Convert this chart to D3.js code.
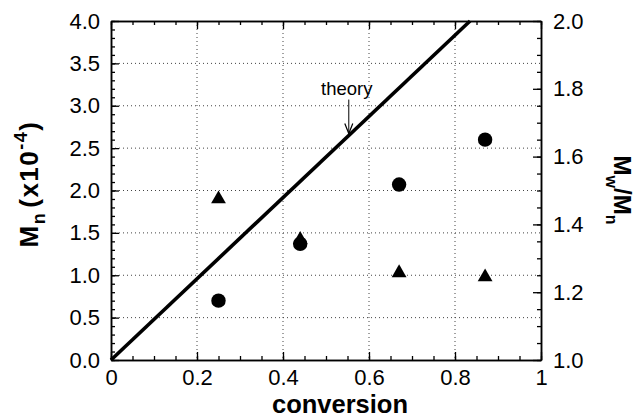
<!DOCTYPE html>
<html>
<head>
<meta charset="utf-8">
<script src="https://cdn.jsdelivr.net/npm/d3@7/dist/d3.min.js"></script>
<style>
  html, body { margin: 0; padding: 0; background: #fff; }
  svg { display: block; }
  text { font-family: "Liberation Sans", Arial, Helvetica, sans-serif; fill: #000; }
</style>
</head>
<body>
<svg id="chart" width="637" height="418"></svg>
<script>
// ---- data ----
const conversion = [0.25, 0.44, 0.67, 0.87];
const mnValues   = [0.70, 1.37, 2.07, 2.60];        // Mn (x10^-4), left axis
const pdiValues  = [1.475, 1.355, 1.257, 1.245];    // Mw/Mn, right axis
const theoryConv = [0, 0.835];
const theoryMn   = [0, 4.0];
const theoryNote = { text: "theory", conv: 0.553, mn: 2.66 };
const xTicks     = [0, 0.2, 0.4, 0.6, 0.8, 1];
const xTickLabels = ["0", "0.2", "0.4", "0.6", "0.8", "1"];
const leftTicks  = [0, 0.5, 1, 1.5, 2, 2.5, 3, 3.5, 4];
const leftTickLabels = ["0.0","0.5","1.0","1.5","2.0","2.5","3.0","3.5","4.0"];
const rightTicks = [1.0, 1.2, 1.4, 1.6, 1.8, 2.0];
const rightTickLabels = ["1.0","1.2","1.4","1.6","1.8","2.0"];

// ---- layout ----
const L = 111, R = 541, T = 21, B = 360;
const svg = d3.select("#chart");
const x = d3.scaleLinear().domain([0, 1]).range([L, R]);
const yL = d3.scaleLinear().domain([0, 4]).range([B, T]);
const yR = d3.scaleLinear().domain([1, 2]).range([B, T]);

// grid
const grid = svg.append("g").attr("stroke", "#444").attr("stroke-width", 1)
  .attr("stroke-dasharray", "1,3").attr("fill", "none");
xTicks.filter(d => d > 0 && d < 1).forEach(d => {
  grid.append("line").attr("x1", x(d)).attr("x2", x(d)).attr("y1", T).attr("y2", B);
});
leftTicks.filter(d => d > 0 && d < 4).forEach(d => {
  grid.append("line").attr("x1", L).attr("x2", R).attr("y1", yL(d)).attr("y2", yL(d));
});

const fontSize = 22;
function styleAxis(g) {
  g.selectAll("path").attr("stroke", "#000").attr("stroke-width", 1.5);
  g.selectAll("line").attr("stroke", "#000").attr("stroke-width", 1.3);
  g.selectAll("text").attr("font-size", fontSize).attr("fill", "#000")
    .attr("font-family", '"Liberation Sans", Arial, sans-serif');
}
const range = (a, b, s) => d3.range(a, b + s / 2, s).map(v => +v.toFixed(4));

// minor ticks
svg.append("g").attr("transform", `translate(0,${B})`)
  .call(d3.axisBottom(x).tickValues(range(0, 1, 0.05)).tickSizeInner(-4).tickSizeOuter(0).tickFormat(""))
  .call(styleAxis);
svg.append("g").attr("transform", `translate(0,${T})`)
  .call(d3.axisTop(x).tickValues(range(0, 1, 0.05)).tickSizeInner(-4).tickSizeOuter(0).tickFormat(""))
  .call(styleAxis);
svg.append("g").attr("transform", `translate(${L},0)`)
  .call(d3.axisLeft(yL).tickValues(range(0, 4, 0.1)).tickSizeInner(-4).tickSizeOuter(0).tickFormat(""))
  .call(styleAxis);
svg.append("g").attr("transform", `translate(${R},0)`)
  .call(d3.axisRight(yR).tickValues(range(1, 2, 0.05)).tickSizeInner(-4).tickSizeOuter(0).tickFormat(""))
  .call(styleAxis);

// major ticks
svg.append("g").attr("transform", `translate(0,${B})`)
  .call(d3.axisBottom(x).tickValues(xTicks).tickSizeInner(-8).tickSizeOuter(0).tickPadding(9)
    .tickFormat((d, i) => xTickLabels[i]))
  .call(styleAxis);
svg.append("g").attr("transform", `translate(0,${T})`)
  .call(d3.axisTop(x).tickValues(xTicks).tickSizeInner(-8).tickSizeOuter(0).tickFormat(""))
  .call(styleAxis);
svg.append("g").attr("transform", `translate(${L},0)`)
  .call(d3.axisLeft(yL).tickValues(leftTicks).tickSizeInner(-8).tickSizeOuter(0).tickPadding(11)
    .tickFormat((d, i) => leftTickLabels[i]))
  .call(styleAxis);
svg.append("g").attr("transform", `translate(${R},0)`)
  .call(d3.axisRight(yR).tickValues(rightTicks).tickSizeInner(-8).tickSizeOuter(0).tickPadding(12)
    .tickFormat((d, i) => rightTickLabels[i]))
  .call(styleAxis);

// theory line
svg.append("path")
  .datum(theoryConv.map((c, i) => [c, theoryMn[i]]))
  .attr("d", d3.line().x(d => x(d[0])).y(d => yL(d[1])))
  .attr("stroke", "#000").attr("stroke-width", 3.6).attr("fill", "none");

// annotation
const ax = x(theoryNote.conv), ay = yL(theoryNote.mn);
svg.append("text").attr("x", ax - 2).attr("y", ay - 40).attr("text-anchor", "middle")
  .attr("font-size", 18.5).text(theoryNote.text);
svg.append("line").attr("x1", ax).attr("x2", ax).attr("y1", ay - 35).attr("y2", ay - 1)
  .attr("stroke", "#000").attr("stroke-width", 1);
svg.append("path").attr("d", `M${ax - 4},${ay - 11} L${ax},${ay - 1} L${ax + 4},${ay - 11}`)
  .attr("stroke", "#000").attr("stroke-width", 1.2).attr("fill", "none");

// markers: circles Mn
svg.append("g").selectAll("circle").data(conversion).join("circle")
  .attr("cx", d => x(d)).attr("cy", (d, i) => yL(mnValues[i])).attr("r", 7.2).attr("fill", "#000");
// triangles Mw/Mn
const tri = d3.symbol().type(d3.symbolTriangle).size(95);
svg.append("g").selectAll("path").data(conversion).join("path")
  .attr("d", tri)
  .attr("transform", (d, i) => `translate(${x(d)},${yR(pdiValues[i])})`)
  .attr("fill", "#000");

// axis titles
svg.append("text").attr("x", 340).attr("y", 412.5).attr("text-anchor", "middle")
  .attr("font-size", 25.5).attr("font-weight", "bold").text("conversion");

const lt = svg.append("text").attr("transform", "translate(38,184) rotate(-90)")
  .attr("text-anchor", "middle").attr("font-size", 26).attr("font-weight", "bold")
  .attr("letter-spacing", 1.5);
lt.append("tspan").text("M");
lt.append("tspan").attr("font-size", 18).attr("dy", 7).text("n");
lt.append("tspan").attr("dy", -7).attr("dx", 4).text("(x10");
lt.append("tspan").attr("font-size", 18).attr("dy", -11).text("-4");
lt.append("tspan").attr("dy", 11).text(")");

const rt = svg.append("text").attr("transform", "translate(614,190) rotate(90)")
  .attr("text-anchor", "middle").attr("font-size", 24).attr("font-weight", "bold");
rt.append("tspan").text("M");
rt.append("tspan").attr("font-size", 16).attr("dy", 8).text("w");
rt.append("tspan").attr("dy", -8).text("/M");
rt.append("tspan").attr("font-size", 16).attr("dy", 8).text("n");
</script>
</body>
</html>
